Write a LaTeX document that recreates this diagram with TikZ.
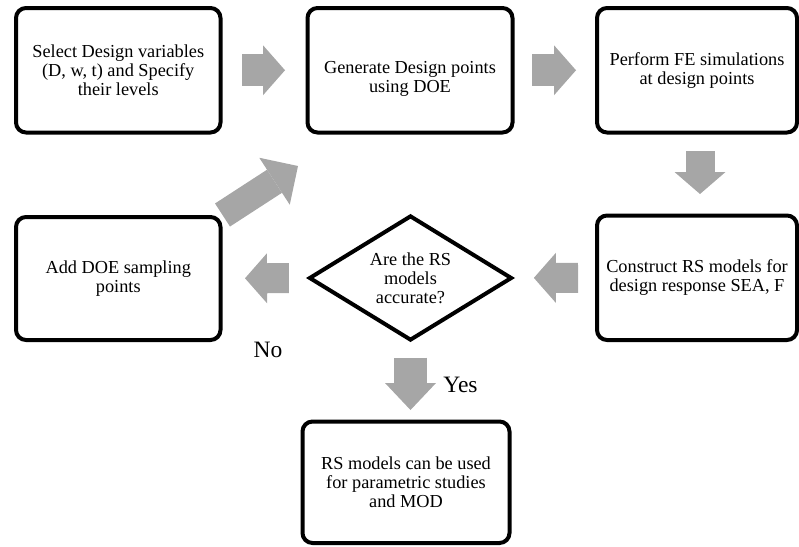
\documentclass[tikz,border=0pt]{standalone}
\usepackage{fontspec}
\setmainfont{Liberation Serif}
\usetikzlibrary{shapes.geometric,arrows.meta}
\definecolor{arrowgray}{RGB}{166,166,166}
\tikzset{
  boxtext/.style={align=center, inner sep=0pt, font=\fontsize{18.3}{19}\selectfont},
  answer/.style={inner sep=0pt, font=\fontsize{23.5}{26}\selectfont},
  stepbox/.style={boxtext, draw, line width=4pt, rounded corners=10pt},
  decbox/.style={boxtext, draw, diamond, aspect=1.3, line width=4pt,
    minimum width=203pt, minimum height=125pt},
  blockarrow/.style n args={3}{draw=arrowgray, line width=#1,
    -{Triangle[width=#2, length=#3, line width=0pt]}}
}
\begin{document}
\begin{tikzpicture}[x=1pt, y=-1pt]
  \useasboundingbox (0,0) rectangle (799,546);

  % steps of the loop
  \node[stepbox, minimum width=204.5pt, minimum height=124.5pt] (sel) at (118.25,70.25)
    {Select Design variables\\(D, w, t) and Specify\\their levels};
  \node[stepbox, minimum width=205pt, minimum height=124.5pt,
    label={[boxtext, yshift=-9pt]center:Generate Design points\\using DOE}] (gen) at (410,70.25) {};
  \node[stepbox, minimum width=200pt, minimum height=124.5pt] (perf) at (697,70.25)
    {Perform FE simulations\\at design points};
  \node[stepbox, minimum width=200pt, minimum height=124.5pt] (cons) at (697,277.75)
    {Construct RS models for\\design response SEA, F};
  \node[decbox] (dec) at (410.5,278) {Are the RS\\models\\accurate?};
  \node[stepbox, minimum width=204.5pt, minimum height=123pt] (add) at (118.25,278.5)
    {Add DOE sampling\\points};
  \node[stepbox, minimum width=207pt, minimum height=121.5pt] (res) at (406,482.25)
    {RS models can be used\\for parametric studies\\and MOD};

  % answers
  \node[answer] (no) at (268,350) {No};
  \node[answer] (yes) at (460.5,385) {Yes};

  % block arrows
  \coordinate (loop) at (298,166);
  \draw[blockarrow={32pt}{50pt}{22pt}, shorten <=19.5pt, shorten >=20.5pt] (sel) -- (gen);
  \draw[blockarrow={32pt}{50pt}{22pt}, shorten <=17.5pt, shorten >=19pt] (gen) -- (perf);
  \draw[blockarrow={29pt}{51pt}{22pt}, shorten <=16.5pt, shorten >=19.5pt]
    ([xshift=3pt]perf.south) -- ([xshift=3pt]cons.north);
  \draw[blockarrow={30pt}{50pt}{22pt}, shorten <=17pt, shorten >=20pt] (cons) -- (dec);
  \draw[blockarrow={30pt}{50pt}{22pt}, shorten <=18.5pt, shorten >=22.5pt] (dec) -- (add);
  \draw[blockarrow={33pt}{51pt}{27pt}, shorten <=15pt, shorten >=9.5pt]
    (dec.south) -- (dec.south |- res.north);
  \draw[blockarrow={27.5pt}{56pt}{28pt}] (add.north east) -- (loop);
\end{tikzpicture}
\end{document}
